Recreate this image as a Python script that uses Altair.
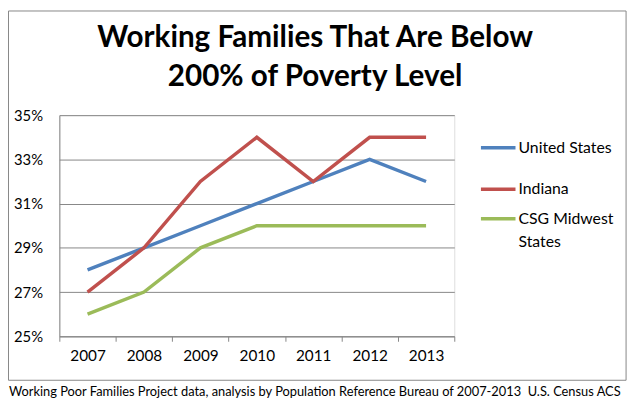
import altair as alt
import pandas as pd

years = ["2007", "2008", "2009", "2010", "2011", "2012", "2013"]
series_names = ["United States", "Indiana", "CSG Midwest States"]
us_values = [28, 29, 30, 31, 32, 33, 32]
indiana_values = [27, 29, 32, 34, 32, 34, 34]
csg_values = [26, 27, 29, 30, 30, 30, 30]
series_colors = ["#4F81BD", "#C0504D", "#9BBB59"]
y_ticks = [25, 27, 29, 31, 33, 35]
title_lines = ["Working Families That Are Below", "200% of Poverty Level"]
footer_text = "Working Poor Families Project data, analysis by Population Reference Bureau of 2007-2013 \u00a0U.S. Census ACS"

FONT = "Lato"

rows = []
for name, vals in zip(series_names, [us_values, indiana_values, csg_values]):
    for yr, v in zip(years, vals):
        rows.append({"year": yr, "value": v, "series": name})
df = pd.DataFrame(rows)

one = pd.DataFrame({"k": [0]})

lines = alt.Chart(df).mark_line(strokeWidth=3.5).encode(
    x=alt.X("year:O", title=None, bandPosition=0.5,
            scale=alt.Scale(type="band", paddingInner=0, paddingOuter=0),
            axis=alt.Axis(tickBand="extent", labelAngle=0, labelFont=FONT, labelFontSize=15.5,
                          labelColor="black", tickSize=5, tickColor="#868686",
                          domainColor="#868686", labelPadding=7, grid=False)),
    y=alt.Y("value:Q", title=None,
            scale=alt.Scale(domain=[25, 35], nice=False, zero=False),
            axis=alt.Axis(values=y_ticks, labelExpr="datum.value + '%'", labelFont=FONT,
                          labelFontSize=15, labelColor="black", ticks=False, labelPadding=17,
                          domainColor="#868686", gridColor="#868686", grid=True)),
    color=alt.Color("series:N", scale=alt.Scale(domain=series_names, range=series_colors), legend=None),
    order=alt.Order("series_order:Q"),
).transform_calculate(
    series_order="indexof(" + str(series_names) + ", datum.series)"
)

layers = [lines]

# custom legend
legend_y = [33, 75, 105]
for name, color, yv in zip(series_names, series_colors, legend_y):
    ldf = pd.DataFrame({"series": [name]})
    layers.append(alt.Chart(ldf).mark_rule(color=color, strokeWidth=3.5).encode(
        x=alt.value(427), x2=alt.value(462), y=alt.value(yv)))
    label = name if name != "CSG Midwest States" else "CSG Midwest\nStates"
    layers.append(alt.Chart(ldf).mark_text(
        align="left", baseline="top", font=FONT, fontSize=16, color="black",
        lineBreak="\n", lineHeight=24).encode(
        x=alt.value(465), y=alt.value(yv - 8), text=alt.value(label)))

# title
layers.append(alt.Chart(one).mark_text(
    align="center", baseline="alphabetic", font=FONT, fontSize=30, fontWeight="bold",
    color="black", lineBreak="\n", lineHeight=39).encode(
    x=alt.value(259), y=alt.value(-69), text=alt.value("\n".join(title_lines))))

# footer
layers.append(alt.Chart(one).mark_text(
    align="left", baseline="alphabetic", font=FONT, fontSize=13, color="black").encode(
    x=alt.value(-51), y=alt.value(284), text=alt.value(footer_text)))

# outer border
layers.append(alt.Chart(one).mark_rect(filled=False, stroke="#868686", strokeWidth=1).encode(
    x=alt.value(-51.5), x2=alt.value(574), y=alt.value(-105.5), y2=alt.value(268.5)))

chart = alt.layer(*layers).properties(
    width=400, height=224,
    autosize=alt.AutoSizeParams(type="none"),
    padding={"left": 52, "top": 106, "right": 180, "bottom": 64},
).configure_view(stroke=None).configure(background="white")

chart.save("out.html", embed_options={"renderer": "svg", "actions": False})
